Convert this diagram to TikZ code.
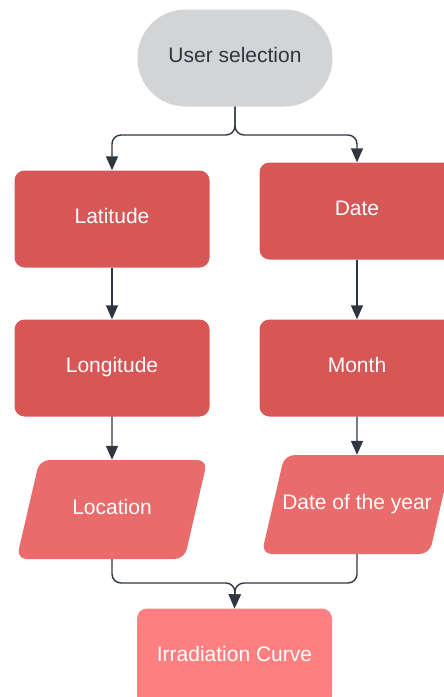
\documentclass[tikz,border=0pt]{standalone}
\usepackage{fontspec}
\setmainfont{Liberation Sans}
\usepackage{tikz}
\usetikzlibrary{arrows.meta, positioning, shapes.geometric}
\definecolor{selgray}{HTML}{D3D4D6}
\definecolor{boxred}{HTML}{D75656}
\definecolor{datared}{HTML}{E96B6B}
\definecolor{curvered}{HTML}{FF8080}
\definecolor{linegray}{HTML}{2F3640}
\begin{document}
\begin{tikzpicture}[x=1pt,y=1pt,node distance=150pt,on grid,
    every node/.style={font=\fontsize{21}{25}\selectfont,text height=15pt,text depth=6pt},
    box/.style={rectangle,rounded corners=10pt,minimum width=195pt,minimum height=97pt,fill=boxred,text=white},
    slanted/.style={trapezium,trapezium left angle=77,trapezium right angle=103,rounded corners=10pt,
      inner xsep=0pt,inner ysep=39pt,fill=datared,text=white},
    flow/.style={draw=linegray,line width=1.4pt,rounded corners=9pt,-{Triangle[length=14pt,width=12pt]}}]
      \useasboundingbox (0,0) rectangle (444,-697);

      \node[box,rounded corners=48pt,fill=selgray,text=linegray] (b_0) at (235,-58) {User selection};
      \node[box] (b_1) [below left = 161pt and 123pt of b_0] {Latitude};
      \node[box] (b_2) [below right = 153pt and 122pt of b_0] {Date};
      \node[box] (b_3) [below = 149pt of b_1] {Longitude};
      \node[box] (b_4) [below = 157pt of b_2] {Month};
      \node[slanted] (b_5) [below = 141.5pt of b_3] {\makebox[145pt]{Location}};
      \node[slanted] (b_6) [below = 136.5pt of b_4] {\makebox[145pt]{Date of the year}};
      \node[box,fill=curvered] (b_7) [below right = 147.5pt and 122.5pt of b_5] {Irradiation Curve};

      \coordinate (split) at (235,-135);
      \coordinate (merge) at (235,-583);

      \path[flow] (b_0.south) -- (split) -| (b_1.north);
      \path[flow] (b_0.south) -- (split) -| (b_2.north);
      \path[flow] (b_1) -- (b_3);
      \path[flow] (b_2) -- (b_4);
      \path[flow] (b_3) -- (b_5);
      \path[flow] (b_4) -- (b_6);
      \path[flow] (b_5.south) |- (merge) -- (b_7.north);
      \path[flow] (b_6.south) |- (merge) -- (b_7.north);
    \end{tikzpicture}
\end{document}
